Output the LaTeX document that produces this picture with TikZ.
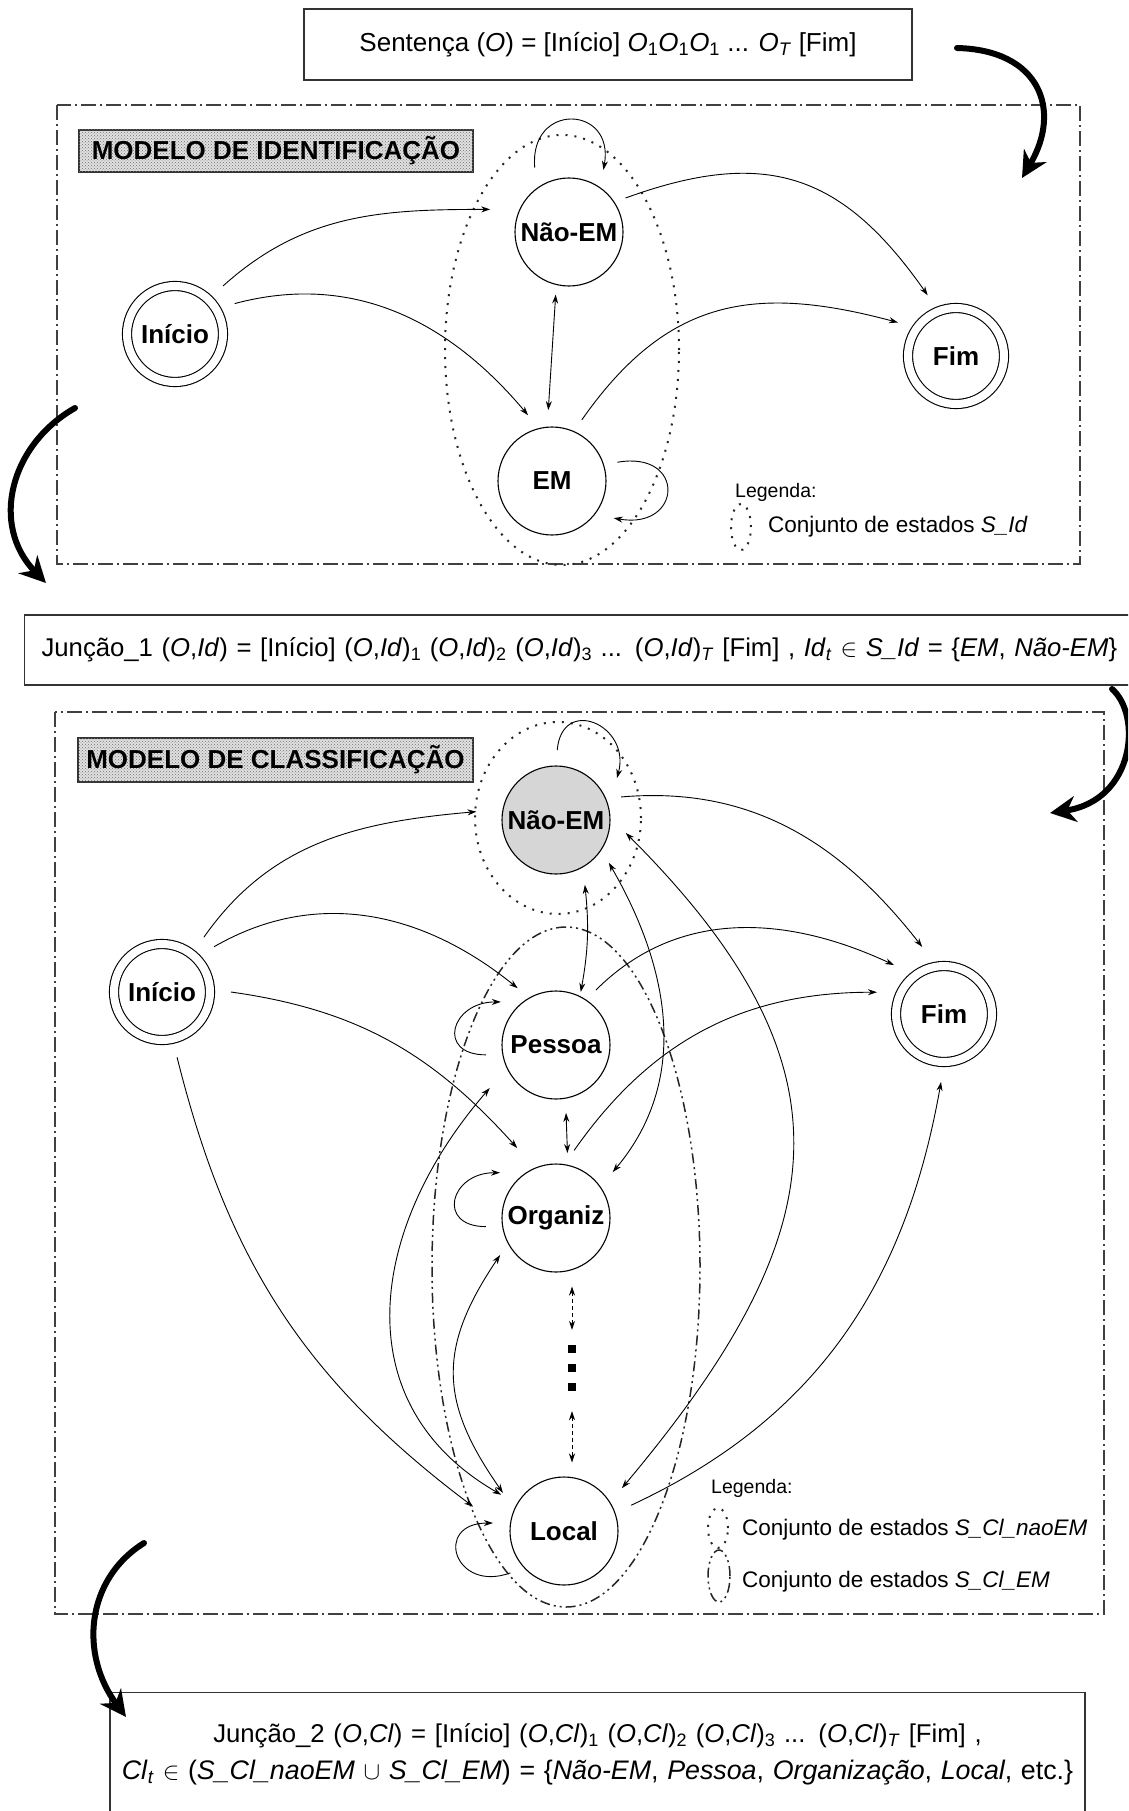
\documentclass[tikz,border=0pt]{standalone}
\usepackage{fontspec}
\setmainfont{Liberation Sans}
\usetikzlibrary{arrows.meta,calc,patterns}

\begin{document}
\begin{tikzpicture}[x=1pt,y=1pt,
  state/.style={circle,draw,line width=1.1pt,minimum size=108pt,inner sep=0pt,outer sep=0pt,
    font=\fontsize{26}{30}\selectfont\bfseries},
  endstate/.style={state,double,double distance=8pt,minimum size=96pt},
  trans/.style={line width=0.9pt,-{Stealth[length=9pt,width=6pt]}},
  trans2/.style={line width=0.9pt,{Stealth[length=9pt,width=6pt]}-{Stealth[length=9pt,width=6pt]}},
  dsharrow/.style={trans2,dash pattern=on 4pt off 3pt},
  bigarrow/.style={line width=6pt,line cap=round,-{Stealth[length=26pt,width=26pt]}},
  frame/.style={draw=black!75,line width=1.2pt,dash pattern=on 15pt off 4pt on 2pt off 4pt},
  dotset/.style={draw=black!85,line width=2pt,dash pattern=on 2pt off 7pt},
  dashset/.style={draw=black!85,line width=1.5pt,dash pattern=on 10pt off 4pt on 2pt off 4pt on 2pt off 4pt},
  textbox/.style={draw=black!80,line width=1.2pt,inner sep=0pt,font=\fontsize{26}{37}\selectfont},
  modlabel/.style={draw=black!80,line width=1.2pt,inner sep=0pt,fill=black!12,
    postaction={pattern=crosshatch dots,pattern color=black!55},
    font=\fontsize{26}{30}\selectfont\bfseries},
  legtitle/.style={anchor=west,inner sep=0pt,font=\fontsize{19.5}{22}\selectfont},
  legtext/.style={anchor=west,inner sep=0pt,font=\fontsize{22.5}{26}\selectfont}
]
\useasboundingbox (0,0) rectangle (1128,-1811);
\clip (0,0) rectangle (1128,-1811);

% ---------- sentence box ----------
\node[textbox,minimum width=608pt,minimum height=71pt] (sent) at (608,-44.5)
  {Sentença (\textit{O}) = [Início] \textit{O}\textsubscript{1}\textit{O}\textsubscript{1}\textit{O}\textsubscript{1} ... \textit{O}\textsubscript{\textit{T}} [Fim]};

% ---------- identification model ----------
\draw[frame] (57,-105) rectangle (1080,-564);
\node[modlabel,minimum width=394pt,minimum height=42pt] (mid) at (276,-151) {MODELO DE IDENTIFICAÇÃO};

\draw[dotset] (562,-350) ellipse [x radius=117, y radius=215];

\node[endstate] (ini1) at (175,-334) {Início};
\node[state] (nao1) at (569,-232) {Não-EM};
\node[state] (em1) at (552,-481) {EM};
\node[endstate] (fim1) at (956,-356) {Fim};

\draw[trans] ($(ini1)+(45:68)$) to[out=42,in=180] ($(nao1)+(164:82)$);
\draw[trans] ($(ini1)+(27:67)$) to[out=15,in=130] ($(em1)+(110:70)$);
\draw[trans2] ($(nao1)+(258:64)$) -- ($(em1)+(93:71)$);
\draw[trans] ($(nao1)+(31:66)$) to[out=20,in=125,looseness=1.2] ($(fim1)+(115:67)$);
\draw[trans] ($(em1)+(64:68)$) to[out=55,in=165,looseness=1.15] ($(fim1)+(150:67)$);
\draw[trans] ($(nao1)+(118:73)$) .. controls +(95:66) and +(80:66) .. ($(nao1)+(61:71)$);
\draw[trans] ($(em1)+(16:68)$) .. controls +(10:70) and +(-10:70) .. ($(em1)+(-31:72)$);

\node[legtitle] (leg1) at (735,-492) {Legenda:};
\draw[dotset] (741,-527) ellipse [x radius=10, y radius=23];
\node[legtext] (leg1a) at (768,-527) {Conjunto de estados \textit{S\_Id}};

% ---------- first join ----------
\node[textbox,anchor=west,text width=1088pt,align=left,inner xsep=17pt,minimum height=70pt,
      font=\fontsize{25.7}{30}\selectfont] (j1) at (24,-650)
  {Junção\_1 (\textit{O},\textit{Id}) = [Início] (\textit{O},\textit{Id})\textsubscript{1} (\textit{O},\textit{Id})\textsubscript{2} (\textit{O},\textit{Id})\textsubscript{3} ... (\textit{O},\textit{Id})\textsubscript{\textit{T}} [Fim] , \textit{Id}\textsubscript{\textit{t}} $\in$ \textit{S\_Id} = \{\textit{EM}, \textit{Não-EM}\}};

% ---------- classification model ----------
\draw[frame] (55,-712) rectangle (1104,-1614);
\node[modlabel,minimum width=395pt,minimum height=44pt] (mcl) at (275.5,-760) {MODELO DE CLASSIFICAÇÃO};

\draw[dotset] (558,-818) ellipse [x radius=83, y radius=96];
\draw[dashset] (566,-1267) ellipse [x radius=134, y radius=340];

\node[endstate] (ini2) at (162,-992) {Início};
\node[state,fill=black!16] (nao2) at (556,-820) {Não-EM};
\node[state] (pes) at (556,-1045) {Pessoa};
\node[state] (org) at (556,-1218) {Organiz};
\node[state] (loc) at (564,-1531) {Local};
\node[endstate] (fim2) at (944,-1014) {Fim};
\node[minimum width=8pt,minimum height=46pt,inner sep=0pt] (gap) at (572,-1368) {};
\foreach \dy in {19,0,-19}
  \fill ($(gap)+(-4,\dy-4)$) rectangle +(8,8);

\draw[trans] ($(ini2)+(52.6:69)$) to[out=55,in=185] ($(nao2)+(174:80)$);
\draw[trans] ($(ini2)+(41:69)$) to[out=30,in=141] ($(pes)+(124:68.5)$);
\draw[trans] ($(ini2)+(0:69)$) to[out=-8,in=132] ($(org)+(119:80)$);
\draw[trans] ($(ini2)+(-77:67)$) to[out=-76,in=143] ($(loc)+(165:94)$);
\draw[trans] ($(nao2)+(19.5:69)$) to[out=5,in=128] ($(fim2)+(108:70.5)$);
\draw[trans2] ($(nao2)+(-66:71)$) to[bend left=8] ($(pes)+(65:58.6)$);
\draw[trans2] ($(nao2)+(-39:68)$) to[out=-60,in=50] ($(org)+(39:73)$);
\draw[trans2] ($(nao2)+(-10.5:71)$) to[out=-45,in=50,looseness=1.3] ($(loc)+(36.5:72)$);
\draw[trans] ($(pes)+(54:68)$) to[out=45,in=155] ($(fim2)+(135.6:70)$);
\draw[trans] ($(org)+(75:70)$) to[out=55,in=180] ($(fim2)+(162:70.5)$);
\draw[trans2] ($(pes)+(-81.6:68.7)$) -- ($(org)+(80:66)$);
\draw[trans2] ($(pes)+(-147:79)$) to[out=-131,in=150,looseness=1.15] ($(loc)+(150:72.5)$);
\draw[trans2] ($(org)+(-146.5:67)$) to[out=-124,in=125,looseness=1.2] ($(loc)+(148:72)$);
\draw[trans] ($(loc)+(21:72)$) to[out=25,in=-100] ($(fim2)+(-92.5:68)$);
\draw[dsharrow,shorten <=14.5pt,shorten >=15pt] (gap.north |- org.south) -- (gap.north);
\draw[dsharrow,shorten <=20pt,shorten >=14.5pt] (gap.south) -- (gap.south |- loc.north);

\draw[trans] ($(nao2)+(89:70)$) .. controls +(85:55) and +(75:55) .. ($(nao2)+(34.5:74)$);
\draw[trans] ($(pes)+(-172:70.7)$) .. controls +(180:50) and +(180:50) .. ($(pes)+(142:70)$);
\draw[trans] ($(org)+(-173:70.6)$) .. controls +(180:50) and +(180:50) .. ($(org)+(141:72)$);
\draw[trans] ($(loc)+(-142:68)$) .. controls +(200:60) and +(180:60) .. ($(loc)+(173.6:71.5)$);

\node[legtitle] (leg2) at (711,-1488) {Legenda:};
\draw[dotset] (718,-1528) ellipse [x radius=10, y radius=20];
\node[legtext] (leg2a) at (742,-1530) {Conjunto de estados \textit{S\_Cl\_naoEM}};
\draw[dashset] (719,-1576) ellipse [x radius=11, y radius=26];
\node[legtext] (leg2b) at (742,-1582) {Conjunto de estados \textit{S\_Cl\_EM}};

% ---------- second join ----------
\node[textbox,anchor=north,text width=953pt,align=center,inner xsep=11pt,inner ysep=31pt] (j2) at (597.5,-1692)
  {{\fontsize{25.7}{37}\selectfont Junção\_2 (\textit{O},\textit{Cl}) = [Início] (\textit{O},\textit{Cl})\textsubscript{1} (\textit{O},\textit{Cl})\textsubscript{2} (\textit{O},\textit{Cl})\textsubscript{3} ... (\textit{O},\textit{Cl})\textsubscript{\textit{T}} [Fim] ,}\\
   {\fontsize{26.8}{37}\selectfont \textit{Cl}\textsubscript{\textit{t}} $\in$ (\textit{S\_Cl\_naoEM} $\cup$ \textit{S\_Cl\_EM}) = \{\textit{Não-EM}, \textit{Pessoa}, \textit{Organização}, \textit{Local}, etc.\}}\\
   \strut};

% ---------- flow between stages ----------
\coordinate (f1s) at (957,-48);
\coordinate (f1e) at (1022,-178);
\coordinate (f2s) at (75,-408);
\coordinate (f2e) at (46,-583);
\coordinate (f3s) at (1112,-689);
\coordinate (f3e) at (1050,-813);
\coordinate (f4s) at (144,-1543);
\coordinate (f4e) at (126,-1717);
\draw[bigarrow] (f1s) .. controls (1040,-50) and (1062,-110) .. (f1e);
\draw[bigarrow] (f2s) .. controls (10,-445) and (-10,-525) .. (f2e);
\draw[bigarrow] (f3s) .. controls (1142,-715) and (1135,-800) .. (f3e);
\draw[bigarrow] (f4s) .. controls (85,-1580) and (80,-1655) .. (f4e);
\end{tikzpicture}
\end{document}
